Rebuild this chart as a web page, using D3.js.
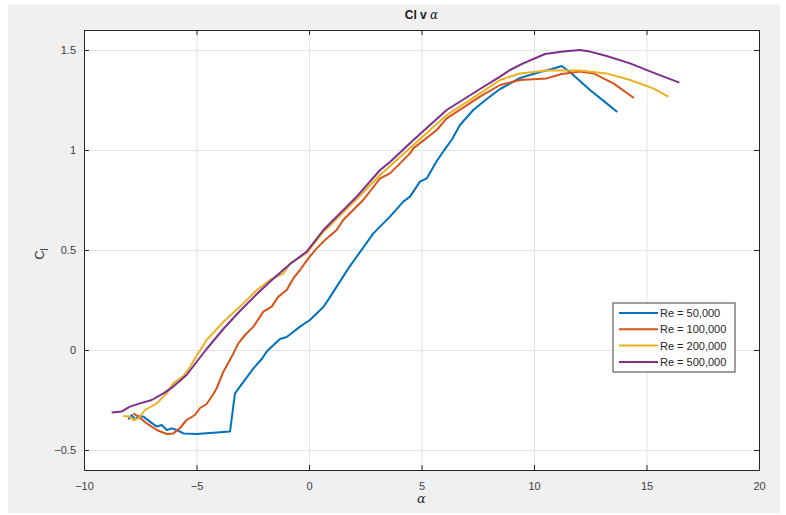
<!DOCTYPE html>
<html>
<head>
<meta charset="utf-8">
<script src="https://cdn.jsdelivr.net/npm/d3@7"></script>
<style>
 body { margin: 0; background: #fff; }
 text { font-family: "Liberation Sans", Arial, sans-serif; }
</style>
</head>
<body>
<svg id="clchart" width="786" height="515"></svg>
<script>
 // series data, alpha in degrees
 let seriesNames = ["Re = 50,000", "Re = 100,000", "Re = 200,000", "Re = 500,000"];
 let seriesColors = ["#0072BD", "#D95319", "#EDB120", "#7E2F8E"];

 let alpha50k = [-8.03,-7.88,-7.73,-7.58,-7.36,-7.07,-6.77,-6.55,-6.32,-6.10,-5.88,-5.58,-4.99,-3.51,-3.29,-3.07,-2.47,-2.10,-1.88,-1.29,-0.99,-0.40,0.04,0.64,0.86,1.23,1.75,2.86,3.60,4.19,4.49,4.93,5.23,5.68,6.12,6.34,6.71,7.30,7.90,8.49,9.38,10.27,10.80,11.23,11.67,12.49,13.23,13.70];
 let cl50k = [-0.347,-0.325,-0.347,-0.333,-0.333,-0.358,-0.383,-0.375,-0.400,-0.392,-0.400,-0.417,-0.420,-0.408,-0.217,-0.183,-0.092,-0.045,-0.008,0.055,0.065,0.117,0.150,0.215,0.252,0.317,0.408,0.583,0.667,0.742,0.767,0.842,0.858,0.945,1.017,1.050,1.125,1.200,1.255,1.305,1.360,1.390,1.405,1.420,1.383,1.300,1.233,1.190];

 let alpha100k = [-7.81,-7.58,-7.21,-6.77,-6.32,-6.03,-5.73,-5.44,-5.07,-4.84,-4.55,-4.25,-4.10,-3.81,-3.36,-3.14,-2.84,-2.47,-2.03,-1.66,-1.36,-0.99,-0.70,-0.40,-0.03,0.34,0.79,1.23,1.52,2.41,3.16,3.60,4.49,4.64,5.68,6.12,7.60,8.49,9.38,10.56,11.23,12.04,12.64,13.53,14.44];
 let cl100k = [-0.317,-0.333,-0.367,-0.400,-0.420,-0.417,-0.390,-0.350,-0.325,-0.290,-0.270,-0.220,-0.190,-0.110,-0.017,0.033,0.075,0.117,0.192,0.217,0.267,0.300,0.358,0.400,0.458,0.508,0.558,0.600,0.650,0.750,0.858,0.883,0.983,1.008,1.100,1.158,1.267,1.325,1.350,1.358,1.380,1.392,1.383,1.333,1.260];

 let alpha200k = [-8.25,-7.96,-7.81,-7.58,-7.29,-6.77,-6.32,-6.03,-5.58,-5.29,-5.00,-4.55,-3.81,-3.07,-2.32,-1.73,-1.14,-0.84,-0.10,0.64,2.12,3.16,4.64,6.12,7.60,8.49,9.38,10.56,12.04,13.23,14.27,15.30,15.97];
 let cl200k = [-0.330,-0.333,-0.350,-0.342,-0.300,-0.267,-0.217,-0.167,-0.130,-0.085,-0.030,0.050,0.140,0.217,0.300,0.350,0.383,0.433,0.485,0.590,0.755,0.875,1.025,1.175,1.283,1.350,1.383,1.397,1.397,1.383,1.350,1.308,1.267];

 let alpha500k = [-8.77,-8.33,-7.96,-7.51,-6.99,-6.47,-6.03,-5.44,-5.00,-4.55,-3.81,-3.07,-2.32,-1.58,-0.84,-0.10,0.64,2.12,3.16,3.60,4.64,6.12,7.60,8.49,8.93,9.52,10.49,11.30,12.04,12.49,13.23,14.27,15.30,16.46];
 let cl500k = [-0.313,-0.308,-0.283,-0.267,-0.250,-0.217,-0.183,-0.125,-0.060,0.005,0.105,0.195,0.280,0.358,0.430,0.492,0.600,0.767,0.900,0.940,1.050,1.200,1.305,1.367,1.400,1.433,1.480,1.492,1.500,1.492,1.470,1.433,1.387,1.337];

 let xTicks = [-10,-5,0,5,10,15,20];
 let yTicks = [-0.5,0,0.5,1,1.5];

 let allAlpha = [alpha50k, alpha100k, alpha200k, alpha500k];
 let allCl = [cl50k, cl100k, cl200k, cl500k];
 let series = allAlpha.map((a,i) => ({
     name: seriesNames[i],
     color: seriesColors[i],
     points: a.map((v,j) => ({alpha: v, cl: allCl[i][j]}))
 }));

 let svg = d3.select("svg#clchart");
 let margin = {top: 30, right: 27, bottom: 45, left: 84};
 let width = 786, height = 515;
 let chartWidth = width - margin.left - margin.right;
 let chartHeight = height - margin.top - margin.bottom;

 // figure background
 svg.append("rect").attr("x",8).attr("y",4).attr("width",772).attr("height",509).attr("fill","#f0f0f0");

 const xScale = d3.scaleLinear().domain([-10,20]).range([0,chartWidth]);
 const yScale = d3.scaleLinear().domain([-0.6,1.6]).range([chartHeight,0]);

 let chartArea = svg.append("g").attr("transform",`translate(${margin.left},${margin.top})`);

 chartArea.append("rect").attr("width",chartWidth).attr("height",chartHeight).attr("fill","white");

 // gridlines
 chartArea.append("g").attr("class","x gridlines")
     .attr("transform",`translate(0,${chartHeight})`)
     .call(d3.axisBottom(xScale).tickValues(xTicks).tickSize(-chartHeight).tickFormat(""))
     .call(g => g.select(".domain").remove())
     .call(g => g.selectAll("line").attr("stroke","#e3e3e3"));
 chartArea.append("g").attr("class","y gridlines")
     .call(d3.axisLeft(yScale).tickValues(yTicks).tickSize(-chartWidth).tickFormat(""))
     .call(g => g.select(".domain").remove())
     .call(g => g.selectAll("line").attr("stroke","#e3e3e3"));

 // lines
 let line = d3.line().x(d => xScale(d.alpha)).y(d => yScale(d.cl));
 chartArea.selectAll("path.series")
     .data(series)
     .join("path")
     .attr("class","series")
     .attr("d", d => line(d.points))
     .attr("fill","none")
     .attr("stroke", d => d.color)
     .attr("stroke-width", 2)
     .attr("stroke-linejoin","round");

 // axes with inward ticks, box on
 let axisColor = "#262626";
 function styleAxis(g){
     g.select(".domain").attr("stroke",axisColor);
     g.selectAll(".tick line").attr("stroke",axisColor);
     g.selectAll(".tick text").attr("fill","#404040").style("font-size","11px");
 }
 chartArea.append("g").attr("transform",`translate(0,${chartHeight})`)
     .call(d3.axisBottom(xScale).tickValues(xTicks).tickSize(-5).tickSizeOuter(0).tickPadding(12).tickFormat(d3.format("")))
     .call(styleAxis);
 chartArea.append("g")
     .call(d3.axisTop(xScale).tickValues(xTicks).tickSize(-5).tickSizeOuter(0).tickFormat(""))
     .call(styleAxis);
 chartArea.append("g")
     .call(d3.axisLeft(yScale).tickValues(yTicks).tickSize(-5).tickSizeOuter(0).tickPadding(8).tickFormat(d3.format("")))
     .call(styleAxis);
 chartArea.append("g").attr("transform",`translate(${chartWidth},0)`)
     .call(d3.axisRight(yScale).tickValues(yTicks).tickSize(-5).tickSizeOuter(0).tickFormat(""))
     .call(styleAxis);

 // title
 let title = svg.append("text").attr("x", margin.left + chartWidth/2).attr("y", 19)
     .attr("text-anchor","middle").attr("fill","#1a1a1a").style("font-size","12px").style("font-weight","bold");
 title.append("tspan").text("Cl v ");
 title.append("tspan").text("α").style("font-family","'DejaVu Serif', serif").style("font-style","italic").style("font-weight","normal");

 // axis labels
 svg.append("text").attr("x", margin.left + chartWidth/2).attr("y", 503)
     .attr("text-anchor","middle").attr("fill","#333").style("font-size","13px")
     .style("font-family","'DejaVu Serif', serif").style("font-style","italic").text("α");
 let yLabel = svg.append("text").attr("transform","translate(44,254) rotate(-90)")
     .attr("text-anchor","middle").attr("fill","#333").style("font-size","13px");
 yLabel.append("tspan").text("C");
 yLabel.append("tspan").attr("dy",4).style("font-size","10px").text("l");

 // legend
 let legend = svg.append("g").attr("transform","translate(613,303)");
 legend.append("rect").attr("width",122).attr("height",69).attr("fill","white").attr("stroke","#404040");
 let rows = legend.selectAll("g.row").data(series).join("g").attr("class","row")
     .attr("transform",(d,i) => `translate(0,${10 + i*16.3})`);
 rows.append("line").attr("x1",6).attr("x2",45).attr("stroke",d => d.color).attr("stroke-width",2);
 rows.append("text").attr("x",47).attr("y",4).attr("fill","#262626").style("font-size","11px").text(d => d.name);
</script>
</body>
</html>
